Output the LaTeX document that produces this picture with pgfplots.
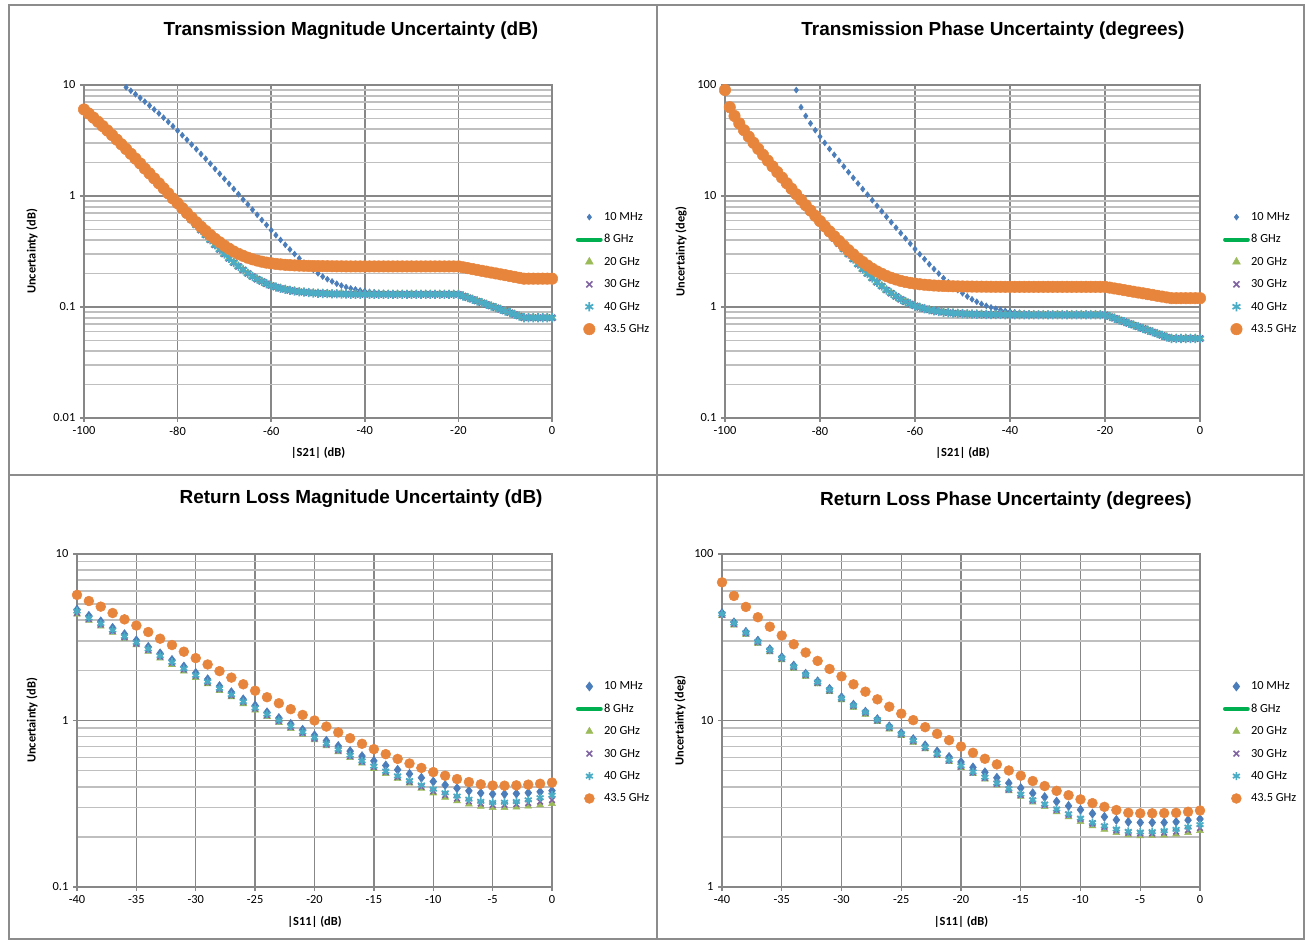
\documentclass[border=0pt]{standalone}
\usepackage{pgfplots}
\pgfplotsset{compat=1.18}
\usepackage{pgfplotstable}
\usepackage{fontspec}
\setmainfont{Carlito}
\newfontfamily\titlefont{Liberation Sans}

\definecolor{cA}{HTML}{4A7DBA}
\definecolor{cG}{HTML}{00B050}
\definecolor{cT}{HTML}{9BBB59}
\definecolor{cP}{HTML}{8064A2}
\definecolor{cS}{HTML}{4BACC6}
\definecolor{cO}{HTML}{E8853D}
\definecolor{gmaj}{HTML}{878787}
\definecolor{gmin}{HTML}{BFBFBF}
\definecolor{frm}{HTML}{8C8C8C}

% transmission magnitude: x, 10 MHz, 20/30/40 GHz, 43.5 GHz
\pgfplotstableread{
x a b c
-100 nan 6.02 6.02
-99 nan 5.54 5.54
-98 nan 5.08 5.08
-97 nan 4.65 4.66
-96 nan 4.25 4.26
-95 nan 3.88 3.89
-94 nan 3.53 3.54
-93 nan 3.21 3.22
-92 nan 2.91 2.92
-91 9.53 2.64 2.65
-90 8.87 2.39 2.40
-89 8.25 2.164 2.17
-88 7.65 1.954 1.964
-87 7.08 1.755 1.765
-86 6.53 1.585 1.597
-85 6.02 1.426 1.439
-84 5.54 1.287 1.301
-83 5.08 1.157 1.173
-82 4.65 1.038 1.056
-81 4.25 0.929 0.949
-80 3.88 0.840 0.862
-79 3.53 0.753 0.777
-78 3.21 0.677 0.703
-77 2.91 0.608 0.638
-76 2.64 0.548 0.580
-75 2.39 0.492 0.529
-74 2.164 0.444 0.484
-73 1.954 0.402 0.445
-72 1.755 0.363 0.411
-71 1.585 0.330 0.382
-70 1.426 0.300 0.356
-69 1.287 0.274 0.335
-68 1.157 0.251 0.316
-67 1.038 0.232 0.301
-66 0.929 0.216 0.289
-65 0.840 0.201 0.278
-64 0.753 0.188 0.269
-63 0.677 0.178 0.262
-62 0.608 0.170 0.256
-61 0.548 0.162 0.251
-60 0.492 0.156 0.2475
-59 0.444 0.151 0.2444
-58 0.402 0.147 0.2419
-57 0.363 0.144 0.2399
-56 0.330 0.141 0.2383
-55 0.300 0.139 0.2370
-54 0.274 0.137 0.2360
-53 0.251 0.136 0.2352
-52 0.232 0.1345 0.2345
-51 0.216 0.1336 0.2340
-50 0.201 0.1329 0.2336
-49 0.188 0.1323 0.2333
-48 0.178 0.1318 0.2330
-47 0.170 0.1314 0.2328
-46 0.162 0.1311 0.2326
-45 0.156 0.1309 0.2325
-44 0.151 0.1305 0.2322
-43 0.147 0.1303 0.2321
-42 0.144 0.1302 0.2320
-41 0.141 0.1301 0.2320
-40 0.139 0.1300 0.2320
-39 0.137 0.1300 0.2320
-38 0.136 0.1300 0.2320
-37 0.1345 0.1300 0.2320
-36 0.1336 0.1300 0.2320
-35 0.1329 0.1300 0.2320
-34 0.1323 0.1300 0.2320
-33 0.1318 0.1300 0.2320
-32 0.1314 0.1300 0.2320
-31 0.1311 0.1300 0.2320
-30 0.1309 0.1300 0.2320
-29 0.1305 0.1300 0.2320
-28 0.1303 0.1300 0.2320
-27 0.1302 0.1300 0.2320
-26 0.1301 0.1300 0.2320
-25 0.1300 0.1300 0.2320
-24 0.1300 0.1300 0.2320
-23 0.1300 0.1300 0.2320
-22 0.1300 0.1300 0.2320
-21 0.1300 0.1300 0.2320
-20 0.1300 0.1300 0.2320
-19 0.1256 0.1256 0.2278
-18 0.1213 0.1213 0.2237
-17 0.1172 0.1172 0.2197
-16 0.1132 0.1132 0.2158
-15 0.1093 0.1093 0.2119
-14 0.1056 0.1056 0.2081
-13 0.1020 0.1020 0.2043
-12 0.0985 0.0985 0.2007
-11 0.0952 0.0952 0.1970
-10 0.0919 0.0919 0.1935
-9 0.0888 0.0888 0.1900
-8 0.0858 0.0858 0.1866
-7 0.0828 0.0828 0.1833
-6 0.0800 0.0800 0.1800
-5 0.0800 0.0800 0.1800
-4 0.0800 0.0800 0.1800
-3 0.0800 0.0800 0.1800
-2 0.0800 0.0800 0.1800
-1 0.0800 0.0800 0.1800
0 0.0800 0.0800 0.1800
}\tmag

% transmission phase
\pgfplotstableread{
x a b c
-100 nan 90.0 90.0
-99 nan 63.06 63.07
-98 nan 52.59 52.60
-97 nan 45.08 45.10
-96 nan 39.13 39.15
-95 nan 34.23 34.25
-94 nan 30.09 30.12
-93 nan 26.54 26.57
-92 nan 23.48 23.51
-91 nan 20.80 20.84
-90 nan 18.45 18.49
-89 nan 16.39 16.44
-88 nan 14.57 14.63
-87 nan 12.97 13.03
-86 nan 11.54 11.61
-85 90.0 10.28 10.35
-84 63.06 9.16 9.25
-83 52.59 8.16 8.26
-82 45.08 7.28 7.39
-81 39.13 6.50 6.62
-80 34.23 5.80 5.94
-79 30.09 5.18 5.33
-78 26.54 4.63 4.80
-77 23.48 4.15 4.33
-76 20.80 3.72 3.93
-75 18.45 3.33 3.56
-74 16.39 2.99 3.25
-73 14.57 2.70 2.98
-72 12.97 2.43 2.74
-71 11.54 2.20 2.54
-70 10.28 2.00 2.36
-69 9.16 1.82 2.21
-68 8.16 1.67 2.09
-67 7.28 1.54 1.99
-66 6.50 1.42 1.90
-65 5.80 1.33 1.83
-64 5.18 1.244 1.77
-63 4.63 1.173 1.72
-62 4.15 1.115 1.68
-61 3.72 1.066 1.65
-60 3.33 1.025 1.624
-59 2.99 0.992 1.603
-58 2.70 0.964 1.587
-57 2.43 0.942 1.573
-56 2.20 0.923 1.562
-55 2.00 0.909 1.554
-54 1.82 0.897 1.547
-53 1.67 0.888 1.541
-52 1.54 0.880 1.537
-51 1.42 0.874 1.533
-50 1.33 0.869 1.531
-49 1.244 0.865 1.529
-48 1.173 0.862 1.527
-47 1.115 0.860 1.525
-46 1.066 0.858 1.524
-45 1.025 0.856 1.523
-44 0.992 0.855 1.522
-43 0.964 0.854 1.521
-42 0.942 0.853 1.521
-41 0.923 0.852 1.520
-40 0.909 0.851 1.520
-39 0.897 0.850 1.520
-38 0.888 0.850 1.520
-37 0.880 0.850 1.520
-36 0.874 0.850 1.520
-35 0.869 0.850 1.520
-34 0.865 0.850 1.520
-33 0.862 0.850 1.520
-32 0.860 0.850 1.520
-31 0.858 0.850 1.520
-30 0.856 0.850 1.520
-29 0.855 0.850 1.520
-28 0.854 0.850 1.520
-27 0.853 0.850 1.520
-26 0.852 0.850 1.520
-25 0.851 0.850 1.520
-24 0.850 0.850 1.520
-23 0.850 0.850 1.520
-22 0.850 0.850 1.520
-21 0.850 0.850 1.520
-20 0.850 0.850 1.520
-19 0.820 0.820 1.495
-18 0.792 0.792 1.469
-17 0.764 0.764 1.445
-16 0.737 0.737 1.420
-15 0.712 0.712 1.397
-14 0.687 0.687 1.373
-13 0.663 0.663 1.350
-12 0.640 0.640 1.328
-11 0.617 0.617 1.305
-10 0.596 0.596 1.284
-9 0.575 0.575 1.262
-8 0.555 0.555 1.241
-7 0.536 0.536 1.220
-6 0.520 0.520 1.200
-5 0.520 0.520 1.200
-4 0.520 0.520 1.200
-3 0.520 0.520 1.200
-2 0.520 0.520 1.200
-1 0.520 0.520 1.200
0 0.520 0.520 1.200
}\tph

% return loss magnitude: x, 10 MHz, 20, 30, 40, 43.5 GHz
\pgfplotstableread{
x a g p t o
-40 4.63 4.35 4.43 4.54 5.68
-39 4.25 3.99 4.07 4.12 5.22
-38 3.94 3.69 3.77 3.82 4.83
-37 3.60 3.38 3.45 3.49 4.42
-36 3.30 3.10 3.16 3.20 4.05
-35 3.03 2.85 2.90 2.94 3.72
-34 2.77 2.60 2.65 2.69 3.40
-33 2.53 2.37 2.42 2.45 3.10
-32 2.31 2.17 2.22 2.24 2.84
-31 2.11 1.98 2.02 2.05 2.59
-30 1.93 1.81 1.85 1.87 2.37
-29 1.77 1.66 1.69 1.71 2.17
-28 1.61 1.51 1.54 1.56 1.98
-27 1.48 1.385 1.41 1.43 1.81
-26 1.34 1.26 1.29 1.30 1.65
-25 1.23 1.155 1.18 1.19 1.51
-24 1.12 1.056 1.076 1.09 1.38
-23 1.035 0.972 0.991 1.003 1.27
-22 0.954 0.895 0.913 0.924 1.17
-21 0.880 0.826 0.842 0.853 1.08
-20 0.815 0.765 0.780 0.790 1.00
-19 0.756 0.704 0.718 0.727 0.920
-18 0.703 0.649 0.661 0.670 0.848
-17 0.655 0.599 0.611 0.619 0.783
-16 0.611 0.555 0.566 0.573 0.725
-15 0.572 0.515 0.525 0.532 0.673
-14 0.537 0.480 0.490 0.496 0.628
-13 0.506 0.450 0.457 0.465 0.588
-12 0.478 0.421 0.427 0.436 0.552
-11 0.453 0.392 0.400 0.410 0.519
-10 0.430 0.367 0.376 0.387 0.490
-9 0.410 0.346 0.356 0.368 0.466
-8 0.392 0.329 0.340 0.352 0.445
-7 0.378 0.315 0.327 0.337 0.427
-6 0.367 0.305 0.317 0.327 0.414
-5 0.362 0.300 0.311 0.322 0.407
-4 0.362 0.300 0.312 0.323 0.406
-3 0.364 0.302 0.315 0.326 0.408
-2 0.368 0.306 0.320 0.334 0.412
-1 0.373 0.311 0.326 0.344 0.417
0 0.379 0.317 0.333 0.356 0.424
}\rmag

% return loss phase
\pgfplotstableread{
x a g p t o
-40 44.2 42.6 43.2 43.65 67.6
-39 38.9 37.4 38.0 38.4 56.0
-38 34.1 32.9 33.4 33.7 48.1
-37 30.2 29.1 29.5 29.8 41.7
-36 26.8 25.8 26.2 26.5 36.6
-35 24.0 23.1 23.5 23.7 32.4
-34 21.4 20.6 20.9 21.1 28.7
-33 19.1 18.4 18.7 18.9 25.6
-32 17.2 16.6 16.8 17.0 22.8
-31 15.5 14.9 15.1 15.3 20.4
-30 13.8 13.3 13.5 13.6 18.4
-29 12.45 12.0 12.2 12.3 16.5
-28 11.3 10.9 11.1 11.2 14.9
-27 10.2 9.85 10.0 10.1 13.4
-26 9.23 8.89 9.03 9.12 12.1
-25 8.42 8.11 8.24 8.32 11.0
-24 7.74 7.40 7.51 7.59 10.05
-23 7.10 6.75 6.85 6.92 9.12
-22 6.53 6.15 6.25 6.31 8.32
-21 6.04 5.66 5.75 5.81 7.62
-20 5.64 5.22 5.30 5.35 6.98
-19 5.23 4.79 4.87 4.92 6.40
-18 4.89 4.45 4.52 4.57 5.89
-17 4.53 4.09 4.17 4.21 5.45
-16 4.21 3.78 3.85 3.89 5.01
-15 3.93 3.50 3.57 3.61 4.66
-14 3.66 3.23 3.31 3.34 4.33
-13 3.47 3.04 3.12 3.15 4.04
-12 3.26 2.83 2.91 2.94 3.78
-11 3.07 2.64 2.72 2.75 3.56
-10 2.91 2.47 2.56 2.59 3.36
-9 2.76 2.33 2.41 2.44 3.19
-8 2.64 2.22 2.30 2.33 3.03
-7 2.53 2.12 2.19 2.23 2.90
-6 2.46 2.06 2.12 2.16 2.79
-5 2.44 2.03 2.10 2.14 2.77
-4 2.44 2.04 2.10 2.15 2.77
-3 2.44 2.05 2.12 2.18 2.78
-2 2.46 2.08 2.15 2.22 2.79
-1 2.52 2.12 2.20 2.29 2.83
0 2.56 2.18 2.26 2.37 2.88
}\rph

\pgfplotsset{
  every axis/.append style={
    scale only axis, clip=false,
    height=249.75pt,
    axis line style={draw=gmaj, line width=1.1pt},
    xmajorgrids, ymajorgrids, yminorgrids,
    major grid style={draw=gmaj, line width=1.1pt},
    minor grid style={draw=gmin, line width=1.2pt},
    tick align=outside, tick pos=left,
    major tick length=3pt, minor tick length=0pt,
    tick style={draw=gmaj, line width=1.1pt},
    tick label style={font=\fontsize{9.3}{11}\selectfont, text=black},
    label style={font=\bfseries\fontsize{9.3}{11}\selectfont},
    xlabel style={at={(axis description cs:0.5,-0.105)}, anchor=center},
    title style={font=\titlefont\bfseries\fontsize{14.2}{17}\selectfont},
    legend style={draw=none, fill=none, anchor=west,
      font=\fontsize{9.3}{11}\selectfont, inner sep=0pt, row sep=7.8pt,
      nodes={inner sep=0pt, inner xsep=1pt, text height=7pt, text depth=2pt}},
    legend cell align=left,
  },
}

\begin{document}
\begin{tikzpicture}
\path[use as bounding box] (0pt,0pt) rectangle (981pt,705pt);

% top left
\begin{axis}[ymode=log, at={(63pt,391.5pt)}, anchor=south west, width=351pt,
  xmin=-100, xmax=0, xtick={-100,-80,-60,-40,-20,0},
  xticklabels={-100,-80,-60,-40,-20,0}, xlabel={|S21| (dB)},
  ymin=0.01, ymax=10, ytick={0.01,0.1,1,10}, yticklabels={0.01,0.1,1,10},
  minor ytick={0.02,0.03,0.04,0.05,0.06,0.07,0.08,0.09,0.2,0.3,0.4,0.5,0.6,0.7,0.8,0.9,2,3,4,5,6,7,8,9},
  ylabel={Uncertainty (dB)}, ylabel style={at={(axis description cs:-0.111,0.5)}, anchor=center},
  title={Transmission Magnitude Uncertainty (dB)},
  title style={at={(axis description cs:0.5705,1.138)}, anchor=center, yshift=0pt},
  legend style={at={(axis description cs:1.0506,0.435)}}]
\addplot[only marks, mark=diamond*, mark size=2.2pt, color=cA] table[x=x, y=a] {\tmag};
\addlegendentry{10 MHz}
\addlegendimage{line width=3pt, color=cG, line cap=round}
\addlegendentry{8 GHz}
\addplot[only marks, mark=triangle*, mark size=3.4pt, color=cT] table[x=x, y=b] {\tmag};
\addlegendentry{20 GHz}
\addplot[only marks, mark=x, mark size=3.2pt, color=cP, mark options={line width=1.2pt}] table[x=x, y=b] {\tmag};
\addlegendentry{30 GHz}
\addplot[only marks, mark=asterisk, mark size=3.4pt, color=cS, mark options={line width=1.3pt}] table[x=x, y=b] {\tmag};
\addlegendentry{40 GHz}
\addplot[only marks, mark=*, mark size=4.3pt, color=cO] table[x=x, y=c] {\tmag};
\addlegendentry{43.5 GHz}
\end{axis}

% top right
\begin{axis}[ymode=log, at={(543.75pt,391.5pt)}, anchor=south west, width=356.25pt,
  xmin=-100, xmax=0, xtick={-100,-80,-60,-40,-20,0},
  xticklabels={-100,-80,-60,-40,-20,0}, xlabel={|S21| (dB)},
  ymin=0.1, ymax=100, ytick={0.1,1,10,100}, yticklabels={0.1,1,10,100},
  minor ytick={0.2,0.3,0.4,0.5,0.6,0.7,0.8,0.9,2,3,4,5,6,7,8,9,20,30,40,50,60,70,80,90},
  ylabel={Uncertainty (deg)}, ylabel style={at={(axis description cs:-0.0926,0.5)}, anchor=center},
  title={Transmission Phase Uncertainty (degrees)},
  title style={at={(axis description cs:0.564,1.138)}, anchor=center, yshift=0pt},
  legend style={at={(axis description cs:1.048,0.435)}}]
\addplot[only marks, mark=diamond*, mark size=2.2pt, color=cA] table[x=x, y=a] {\tph};
\addlegendentry{10 MHz}
\addlegendimage{line width=3pt, color=cG, line cap=round}
\addlegendentry{8 GHz}
\addplot[only marks, mark=triangle*, mark size=3.4pt, color=cT] table[x=x, y=b] {\tph};
\addlegendentry{20 GHz}
\addplot[only marks, mark=x, mark size=3.2pt, color=cP, mark options={line width=1.2pt}] table[x=x, y=b] {\tph};
\addlegendentry{30 GHz}
\addplot[only marks, mark=asterisk, mark size=3.4pt, color=cS, mark options={line width=1.3pt}] table[x=x, y=b] {\tph};
\addlegendentry{40 GHz}
\addplot[only marks, mark=*, mark size=4.3pt, color=cO] table[x=x, y=c] {\tph};
\addlegendentry{43.5 GHz}
\end{axis}

% bottom left
\begin{axis}[ymode=log, at={(57.75pt,39.75pt)}, anchor=south west, width=356.25pt,
  xmin=-40, xmax=0, xtick={-40,-35,-30,-25,-20,-15,-10,-5,0},
  xticklabels={-40,-35,-30,-25,-20,-15,-10,-5,0}, xlabel={|S11| (dB)},
  ymin=0.1, ymax=10, ytick={0.1,1,10}, yticklabels={0.1,1,10},
  minor ytick={0.2,0.3,0.4,0.5,0.6,0.7,0.8,0.9,2,3,4,5,6,7,8,9},
  ylabel={Uncertainty (dB)}, ylabel style={at={(axis description cs:-0.0947,0.5)}, anchor=center},
  title={Return Loss Magnitude Uncertainty (dB)},
  title style={at={(axis description cs:0.598,1.141)}, anchor=center, yshift=0pt},
  legend style={at={(axis description cs:1.050,0.434)}}]
\addplot[only marks, mark=diamond*, mark size=3.4pt, color=cA] table[x=x, y=a] {\rmag};
\addlegendentry{10 MHz}
\addlegendimage{line width=3pt, color=cG, line cap=round}
\addlegendentry{8 GHz}
\addplot[only marks, mark=triangle*, mark size=3pt, color=cT] table[x=x, y=g] {\rmag};
\addlegendentry{20 GHz}
\addplot[only marks, mark=x, mark size=3pt, color=cP, mark options={line width=1.2pt}] table[x=x, y=p] {\rmag};
\addlegendentry{30 GHz}
\addplot[only marks, mark=asterisk, mark size=3pt, color=cS, mark options={line width=1.3pt}] table[x=x, y=t] {\rmag};
\addlegendentry{40 GHz}
\addplot[only marks, mark=*, mark size=3.7pt, color=cO] table[x=x, y=o] {\rmag};
\addlegendentry{43.5 GHz}
\end{axis}

% bottom right
\begin{axis}[ymode=log, at={(541.5pt,39.75pt)}, anchor=south west, width=358.5pt,
  xmin=-40, xmax=0, xtick={-40,-35,-30,-25,-20,-15,-10,-5,0},
  xticklabels={-40,-35,-30,-25,-20,-15,-10,-5,0}, xlabel={|S11| (dB)},
  ymin=1, ymax=100, ytick={1,10,100}, yticklabels={1,10,100},
  minor ytick={2,3,4,5,6,7,8,9,20,30,40,50,60,70,80,90},
  ylabel={Uncertainty (deg)}, ylabel style={at={(axis description cs:-0.0879,0.5)}, anchor=center},
  title={Return Loss Phase Uncertainty (degrees)},
  title style={at={(axis description cs:0.594,1.135)}, anchor=center, yshift=0pt},
  legend style={at={(axis description cs:1.0475,0.434)}}]
\addplot[only marks, mark=diamond*, mark size=3.4pt, color=cA] table[x=x, y=a] {\rph};
\addlegendentry{10 MHz}
\addlegendimage{line width=3pt, color=cG, line cap=round}
\addlegendentry{8 GHz}
\addplot[only marks, mark=triangle*, mark size=3pt, color=cT] table[x=x, y=g] {\rph};
\addlegendentry{20 GHz}
\addplot[only marks, mark=x, mark size=3pt, color=cP, mark options={line width=1.2pt}] table[x=x, y=p] {\rph};
\addlegendentry{30 GHz}
\addplot[only marks, mark=asterisk, mark size=3pt, color=cS, mark options={line width=1.3pt}] table[x=x, y=t] {\rph};
\addlegendentry{40 GHz}
\addplot[only marks, mark=*, mark size=3.7pt, color=cO] table[x=x, y=o] {\rph};
\addlegendentry{43.5 GHz}
\end{axis}

% chart frames
\draw[frm, line width=1.1pt] (6.75pt,0.75pt) rectangle (978pt,701.25pt);
\draw[frm, line width=1.1pt] (492.75pt,0.75pt) -- (492.75pt,701.25pt);
\draw[frm, line width=1.1pt] (6.75pt,348.75pt) -- (978pt,348.75pt);
\end{tikzpicture}
\end{document}
